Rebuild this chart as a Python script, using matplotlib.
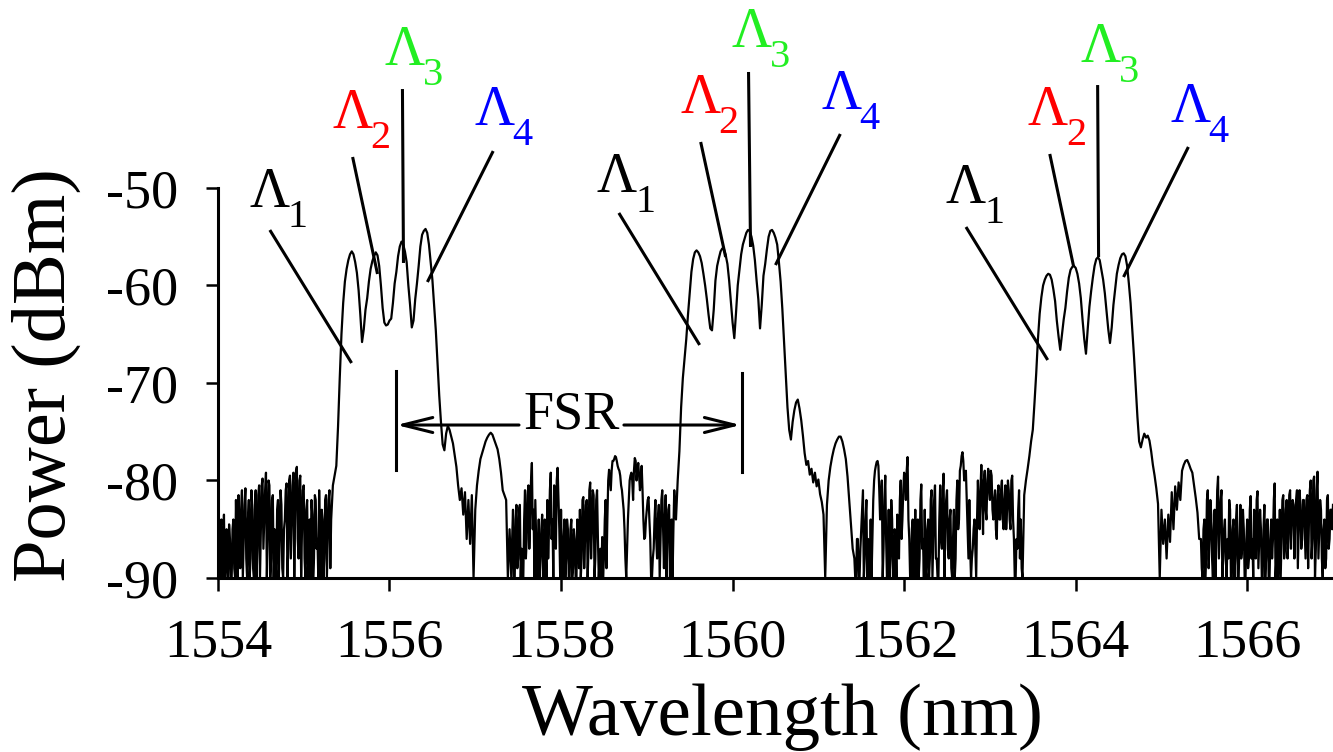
import numpy as np
import matplotlib
matplotlib.use("Agg")
import matplotlib.pyplot as plt

plt.rcParams['font.family'] = 'serif'
plt.rcParams['font.serif'] = ['Liberation Serif', 'Times New Roman', 'STIXGeneral', 'DejaVu Serif']
plt.rcParams['axes.unicode_minus'] = False

# OSA trace: noise floor pieces sampled every 0.01 nm, passbands every 0.02 nm
floor_step = 0.01
band_step = 0.02

floor_a_start = 1554.00
floor_a = [-83, -86, -90, -85, -84, -90, -88, -83.5, -90, -88, -85, -90, -90, -84.5, -86, -90, -90, -85, -84, -89,
           -90, -82, -87, -90, -81.5, -86, -89, -83, -81, -90, -86, -82.5, -80.8, -88, -90, -84, -82, -90, -88, -81,
           -82.5, -89, -90, -83, -81, -90, -87, -81.5, -80.5, -90, -85, -80.5, -79.8, -87, -84, -81, -79.2, -90, -86, -80,
           -80.5, -90, -88, -82, -81.5, -90, -85, -88, -90, -83, -82, -90, -86, -81, -82.5, -89, -90, -85, -84, -81,
           -80.3, -90, -87, -80, -79.5, -88, -84, -80.5, -79.2, -90, -83, -79, -78.6, -86, -88, -80, -79.5, -90, -85, -81,
           -80.5, -88, -90, -83, -82, -90, -86, -84, -90, -82, -83.5, -90, -88, -81.5, -82, -87, -86, -90, -81, -86,
           -90, -83, -84, -90, -88, -82, -81.5, -90, -86, -82, -81, -89, -84]

band_1_start = 1555.34
band_1 = [-80.5, -79.5, -78.5, -74.5, -69.5, -65.0, -61.8, -59.6, -58.3, -57.4,
          -56.8, -56.5, -56.8, -57.6, -58.7, -60.5, -63.0, -65.8, -64.5, -62.5,
          -61.3, -59.6, -58.3, -57.5, -57.0, -56.6, -56.9, -58.0, -60.0, -62.3,
          -63.8, -64.1, -64.0, -63.6, -63.4, -61.8, -59.8, -58.6, -57.0, -56.0,
          -55.5, -55.8, -56.5, -57.6, -60.0, -62.0, -64.3, -63.6, -61.4, -59.8,
          -58.0, -56.0, -54.8, -54.4, -54.2, -54.6, -55.8, -57.6, -59.4, -62.0,
          -64.6, -68.0, -71.3, -74.0, -76.3, -76.9, -75.2, -74.4, -74.8, -75.5,
          -76.2, -77.4, -78.6, -80.5, -82.0, -80.8, -83.5, -81.2, -86.0, -82.0,
          -86.5, -81.5, -90.0, -83.0, -80.5, -79.0, -77.8, -77.2, -76.6, -76.0,
          -75.6, -75.3, -75.1, -75.3, -75.8, -76.3, -76.8, -77.8, -79.2, -81.0,
          -81.5, -82.0, -90.0, -85.0]

floor_b_start = 1557.42
floor_b = [-90, -86, -83, -90, -90, -84, -82.5, -89, -88, -83, -82.5, -90, -87, -90, -90, -84, -81, -88, -86, -81.5,
           -80.5, -87, -84, -80, -78.2, -85, -83, -90, -82, -86, -90, -88, -84, -90, -88, -85, -83.5, -90, -90, -84,
           -86, -90, -82, -88, -85, -81, -79.2, -86, -84, -90, -80.5, -84, -87, -80, -78.7, -82, -85, -90, -83, -88,
           -90, -86, -84, -90, -88, -84, -85, -90, -90, -85, -84, -90, -89, -85, -86, -90, -90, -84, -85.8, -89,
           -83, -90, -88, -82, -81.7, -89, -86, -82.5, -82, -90, -87, -81, -80.2, -88, -85, -81, -81.5, -90, -88, -82,
           -81, -86, -90, -88, -87, -90, -85.8, -90, -88, -84, -82, -89, -84, -80, -78.9, -80, -81, -79, -78, -78,
           -77.8, -77.5, -77.6, -78, -78.5, -78.8, -79, -79.5, -80.5, -81, -82, -83, -85, -88, -90, -87, -84, -82, -80, -79.5,
           -79.2, -80, -82, -79, -77.7, -78, -80, -79, -78.2, -79.5, -81, -80, -78.5, -81, -84, -86, -85.8, -84, -83, -82,
           -81.7, -84, -86, -90, -90, -88, -87, -84, -82, -86, -88, -84, -82.5, -90, -86, -82, -81, -85, -89, -84,
           -81.5, -90, -86, -83, -82.5, -90, -88, -84, -90, -85, -81, -83, -84]

band_2_start = 1559.36
band_2 = [-80.0, -77.0, -72.5, -69.5, -67.5, -65.5, -63.0, -60.8, -58.6, -57.3,
          -56.6, -56.4, -56.6, -57.0, -57.7, -58.8, -60.0, -61.4, -63.0, -64.4,
          -64.6, -62.5, -59.5, -58.0, -57.2, -56.5, -56.2, -56.3, -56.9, -57.8,
          -59.5, -61.6, -63.8, -65.4, -62.8, -60.0, -58.4, -56.8, -55.8, -55.2,
          -54.6, -54.3, -54.4, -55.0, -55.9, -57.4, -59.5, -61.4, -64.4, -62.0,
          -59.0, -57.8, -56.3, -55.0, -54.4, -54.3, -54.6, -55.1, -55.8, -57.6,
          -59.6, -62.4, -65.8, -69.2, -72.5, -74.8, -75.8, -74.0, -72.8, -72.0,
          -71.7, -72.6, -73.8, -75.4, -77.2, -78.4, -78.0, -79.4, -78.8, -80.2,
          -79.2, -80.6, -79.9, -81.4, -82.2, -83.5, -90.0, -82.5, -80.0, -78.6,
          -77.6, -76.8, -76.2, -75.8, -75.5, -75.5, -76.0, -76.8, -77.8, -79.6,
          -82.0, -84.5, -87.0]

floor_c_start = 1561.42
floor_c = [-88, -90, -90, -86, -86, -90, -90, -87, -85, -83, -81, -90, -88, -84, -82, -90, -86, -89, -90, -84,
           -90, -86, -82, -80, -79, -78.5, -78.1, -78, -78.5, -81, -84, -82, -80, -90, -87, -82, -79.5, -86, -90, -88,
           -83, -90, -88, -82, -84, -90, -90, -85, -86, -90, -83.5, -87, -88, -82, -80, -86, -84, -81, -79.2, -80,
           -82, -79, -77.6, -84, -86, -90, -90, -85, -84, -90, -88, -83, -90, -88, -84, -90, -88, -82, -80.4, -87,
           -86, -90, -83, -89, -90, -85, -84, -90, -88, -82, -81, -90, -86, -82, -80.5, -88, -88, -90, -90, -84,
           -80.5, -86, -87, -81, -79.3, -90, -85, -82, -81, -87, -88, -84, -83, -89, -90, -86, -83, -90, -88, -82,
           -80, -85, -84, -79, -78.5, -77.5, -77.1, -78, -80, -79.5, -79, -82, -85, -88, -82, -87, -90, -88, -87, -85,
           -84, -87, -90, -84, -80, -83, -85, -81, -78.4, -82, -85.5, -80, -79, -83, -84, -80, -78.8, -81, -82, -79,
           -79.5, -83, -84, -82, -81, -85, -86, -81.5, -80.5, -84, -84, -81, -80, -84, -85, -82, -80.5, -85, -83, -80,
           -81, -84, -85, -80, -79.5, -84, -86, -90, -90, -86, -87, -83, -81, -88, -84, -89, -90]

band_3_start = 1563.40
band_3 = [-81.5, -80.0, -78.8, -77.5, -76.0, -74.8, -72.0, -69.0, -65.5, -62.9,
          -61.2, -60.0, -59.4, -59.0, -58.8, -58.9, -59.4, -60.4, -61.6, -63.6,
          -65.2, -66.6, -65.0, -63.5, -62.3, -60.6, -59.2, -58.4, -58.1, -58.0,
          -58.2, -58.8, -59.8, -61.3, -63.5, -65.5, -67.0, -64.5, -62.2, -60.6,
          -59.2, -58.0, -57.3, -57.1, -57.4, -58.4, -59.4, -60.8, -62.6, -64.5,
          -65.9, -64.3, -62.0, -60.4, -58.8, -57.9, -57.2, -56.8, -56.7, -57.0,
          -58.0, -59.8, -61.8, -64.6, -67.3, -70.5, -73.5, -76.0, -76.6, -75.8,
          -75.2, -75.6, -75.4, -75.9, -77.0, -78.4, -79.5, -80.8, -82.4, -90.0,
          -83.0, -86.5, -84.0, -88.0, -83.5, -86.3, -81.2, -85.0, -80.6, -83.0,
          -80.2, -82.0, -79.0, -78.4, -78.0, -77.9, -78.3, -78.8, -79.2, -80.5,
          -81.8, -83.3, -86.0]

floor_d_start = 1565.46
floor_d = [-86, -89, -90, -85, -84, -90, -88, -82, -81, -89, -86, -82, -83.5, -88, -90, -85, -83, -90, -86, -81,
           -79.6, -88, -85, -82, -81, -90, -88, -85, -84, -88, -90, -86, -88, -82, -83, -90, -90, -85, -84, -90,
           -88, -84, -82.5, -90, -90, -86, -82.5, -88, -87, -83, -85, -90, -90, -86, -84, -89, -88, -83, -81.6, -88,
           -86, -90, -83, -86, -88, -82, -81.1, -89, -86, -83, -85, -90, -90, -85, -82.5, -90, -88, -84, -84, -90,
           -90, -86, -84, -88, -86, -82, -80.3, -90, -88, -84, -90, -87, -83, -90, -86, -82, -81.5, -88, -87, -83,
           -82, -88, -86, -81.5, -81, -87, -84, -82, -82.5, -88, -84, -82, -81, -89, -85, -81, -82.5, -87, -86, -82,
           -82, -85, -88, -82, -81.5, -89, -84, -81, -80, -88, -86, -80, -79.6, -90, -87, -81, -79.1, -88, -85, -82,
           -83, -88, -90, -85, -84, -89, -88, -82, -81.5, -87, -86, -83, -83, -85, -82.5]

x_ticks = [1554, 1556, 1558, 1560, 1562, 1564, 1566]
y_ticks = [-90, -80, -70, -60, -50]

lam_subs = ['1', '2', '3', '4']
lam_colors = ['black', '#ff0000', '#22ee22', '#0000ff']

# label layout for the three comb groups: text anchor and leader line ends
text_xy = [[(1554.372, -51.95), (1555.337, -43.85), (1555.942, -37.38), (1556.988, -43.54)],
           [(1558.419, -50.41), (1559.395, -42.31), (1559.988, -35.54), (1561.035, -41.90)],
           [(1562.488, -51.54), (1563.442, -43.54), (1564.058, -37.08), (1565.105, -43.23)]]
leader = [[((1554.605, -54.31), (1555.558, -67.95)), ((1555.570, -46.82), (1555.860, -58.82)),
           ((1556.151, -39.85), (1556.163, -57.69)), ((1557.209, -46.21), (1556.442, -59.64))],
          [((1558.674, -52.56), (1559.616, -66.10)), ((1559.628, -45.28), (1559.919, -57.08)),
           ((1560.186, -38.10), (1560.209, -56.05)), ((1561.256, -44.46), (1560.500, -57.90))],
          [((1562.721, -54.00), (1563.674, -67.64)), ((1563.698, -46.51), (1563.977, -58.10)),
           ((1564.256, -39.44), (1564.267, -57.08)), ((1565.314, -45.79), (1564.558, -59.13))]]

segments = [(floor_a_start, floor_step, floor_a), (band_1_start, band_step, band_1),
            (floor_b_start, floor_step, floor_b), (band_2_start, band_step, band_2),
            (floor_c_start, floor_step, floor_c), (band_3_start, band_step, band_3),
            (floor_d_start, floor_step, floor_d)]
wl = np.concatenate([s0 + st * np.arange(len(v)) for s0, st, v in segments])
pw = np.concatenate([np.array(v, dtype=float) for _, _, v in segments])

fig = plt.figure(figsize=(13.33, 7.52), dpi=100)
ax = fig.add_axes([0.1635, 0.2314, 0.8365, 0.5186])
ax.plot(wl, pw, color='black', lw=1.6)

ax.set_xlim(1554, 1567)
ax.set_ylim(-90, -50)
ax.set_xticks(x_ticks)
ax.set_yticks(y_ticks)
for side in ['top', 'right']:
    ax.spines[side].set_visible(False)
for side in ['left', 'bottom']:
    ax.spines[side].set_linewidth(2.2)
ax.tick_params(direction='out', length=9, width=1.8, labelsize=39, pad=20)

ax.set_ylabel('Power (dBm)', fontsize=55, va='center')
ax.yaxis.set_label_coords(-0.1543, 0.52)
ax.set_xlabel('Wavelength (nm)', fontsize=54, va='baseline')
ax.xaxis.set_label_coords(0.506, -0.4026)

# Lambda labels (big Λ + lowered digit) with leader lines
for g in range(3):
    for k in range(4):
        tx, ty = text_xy[g][k]
        ax.text(tx, ty, '\u039b', color=lam_colors[k], fontsize=40,
                ha='left', va='baseline', clip_on=False)
        ax.annotate(lam_subs[k], xy=(tx, ty), xytext=(27.4, -14.4),
                    textcoords='offset points', color=lam_colors[k], fontsize=29,
                    ha='left', va='baseline', annotation_clip=False)
        (x0, y0), (x1, y1) = leader[g][k]
        ax.plot([x0, x1], [y0, y1], color='black', lw=2.2, clip_on=False,
                solid_capstyle='butt')

# FSR marker
fsr_left, fsr_right = 1556.081, 1560.105
ax.plot([fsr_left, fsr_left], [-68.8, -78.9], color='black', lw=2.2)
ax.plot([fsr_right, fsr_right], [-69.0, -79.1], color='black', lw=2.2)
arrow = dict(arrowstyle='->,head_length=1.08,head_width=0.27', lw=2.2,
             color='black', shrinkA=0, shrinkB=0, mutation_scale=20)
ax.annotate('', xy=(fsr_left, -74.31), xytext=(1557.51, -74.31), arrowprops=arrow)
ax.annotate('', xy=(fsr_right - 0.01, -74.31), xytext=(1558.733, -74.31), arrowprops=arrow)
ax.text(1558.122, -74.62, 'FSR', fontsize=39, ha='center', va='baseline')

fig.savefig('out.png', dpi=100)
